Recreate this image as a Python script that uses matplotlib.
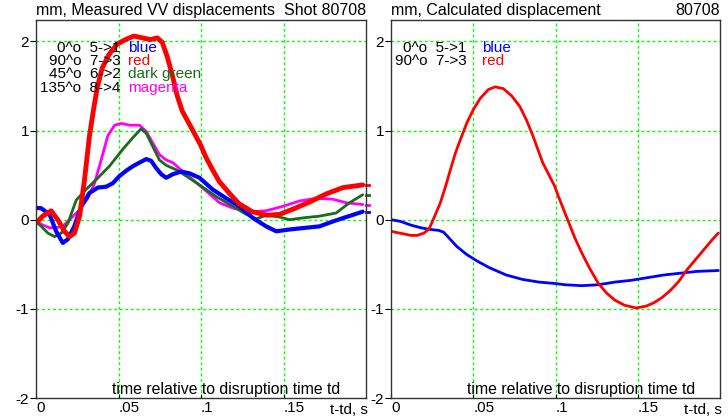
import numpy as np
import matplotlib
matplotlib.use('Agg')
import matplotlib.pyplot as plt

plt.rcParams['font.family'] = ['Liberation Sans', 'DejaVu Sans']

# measured VV displacements (mm) vs t-td (s)
red_t = [0.0, 0.0041, 0.0092, 0.0132, 0.0173, 0.0203, 0.0233, 0.0264, 0.0294, 0.0324, 0.035,
         0.0371, 0.0401, 0.0441, 0.0492, 0.0542, 0.0593, 0.0644, 0.0694, 0.0735, 0.0765,
         0.0795, 0.0825, 0.0856, 0.0886, 0.0936, 0.0997, 0.103, 0.107, 0.111, 0.117, 0.123,
         0.131, 0.140, 0.1476, 0.156, 0.166, 0.176, 0.186, 0.198]
red_v = [-0.04, 0.04, 0.10, 0.0, -0.13, -0.19, -0.15, 0.04, 0.45, 0.94, 1.25,
         1.48, 1.70, 1.85, 1.97, 2.02, 2.06, 2.04, 2.02, 2.04, 1.99,
         1.83, 1.63, 1.39, 1.22, 1.05, 0.84, 0.70, 0.56, 0.43, 0.30, 0.18,
         0.09, 0.05, 0.06, 0.12, 0.20, 0.29, 0.36, 0.39]

blue_t = [0.0, 0.003, 0.0082, 0.0122, 0.0162, 0.0193, 0.0233, 0.0274, 0.0324, 0.0375, 0.0425,
          0.0466, 0.0506, 0.0547, 0.0587, 0.0627, 0.0668, 0.0698, 0.0728, 0.0759, 0.0789,
          0.0829, 0.088, 0.093, 0.0991, 0.107, 0.1153, 0.1233, 0.1314, 0.1395, 0.1456,
          0.1536, 0.1638, 0.1718, 0.1799, 0.188, 0.198]
blue_v = [0.13, 0.13, 0.06, -0.13, -0.26, -0.22, -0.07, 0.15, 0.30, 0.36, 0.37,
          0.41, 0.49, 0.55, 0.60, 0.64, 0.68, 0.66, 0.58, 0.51, 0.47,
          0.51, 0.54, 0.52, 0.47, 0.34, 0.24, 0.15, 0.02, -0.075, -0.13,
          -0.11, -0.09, -0.075, -0.02, 0.03, 0.09]

green_t = [0.0, 0.0032, 0.0072, 0.0112, 0.0153, 0.0193, 0.0244, 0.0304, 0.0365, 0.0445, 0.0526,
           0.0587, 0.0637, 0.0668, 0.0708, 0.0748, 0.0789, 0.085, 0.091, 0.0991, 0.1092,
           0.1193, 0.1274, 0.1335, 0.1395, 0.1476, 0.1536, 0.1617, 0.1718, 0.1819, 0.19, 0.198]
green_v = [-0.02, -0.075, -0.15, -0.19, -0.15, -0.04, 0.22, 0.34, 0.45, 0.60, 0.79,
           0.92, 1.02, 0.97, 0.82, 0.67, 0.61, 0.56, 0.49, 0.39, 0.26,
           0.15, 0.06, 0.01, 0.05, 0.03, 0.0, 0.02, 0.04, 0.075, 0.19, 0.28]

magenta_t = [0.0, 0.0041, 0.0082, 0.0122, 0.0162, 0.0203, 0.0264, 0.0314, 0.0355, 0.0395, 0.0435,
             0.0476, 0.0516, 0.0567, 0.0627, 0.0668, 0.0708, 0.0748, 0.0789, 0.0829, 0.089,
             0.095, 0.1032, 0.1112, 0.1193, 0.1294, 0.1395, 0.1496, 0.1597, 0.1698, 0.1799,
             0.188, 0.198]
magenta_v = [-0.02, -0.06, -0.09, -0.09, -0.075, 0.0, 0.11, 0.24, 0.41, 0.67, 0.94,
             1.06, 1.08, 1.06, 1.06, 0.99, 0.86, 0.73, 0.67, 0.64, 0.54,
             0.45, 0.32, 0.19, 0.13, 0.09, 0.10, 0.15, 0.21, 0.24, 0.23,
             0.19, 0.17]

# calculated displacement
calc_red_t = [0.0, 0.004, 0.008, 0.012, 0.016, 0.020, 0.0231, 0.0261, 0.030, 0.0331, 0.0361,
              0.0392, 0.0422, 0.0462, 0.0502, 0.0542, 0.0592, 0.0633, 0.0683, 0.0733, 0.0783,
              0.0823, 0.0863, 0.0922, 0.0994, 0.1018, 0.1048, 0.1078, 0.1119, 0.1159, 0.1209,
              0.1259, 0.1309, 0.1359, 0.142, 0.149, 0.155, 0.160, 0.165, 0.170, 0.175, 0.180,
              0.185, 0.190, 0.195, 0.199]
calc_red_v = [-0.13, -0.146, -0.16, -0.176, -0.176, -0.15, -0.105, 0.02, 0.19, 0.37, 0.56,
              0.75, 0.90, 1.09, 1.24, 1.36, 1.46, 1.49, 1.47, 1.39, 1.27,
              1.12, 0.94, 0.64, 0.38, 0.26, 0.12, -0.02, -0.21, -0.37, -0.55,
              -0.71, -0.82, -0.90, -0.96, -0.99, -0.97, -0.93, -0.87, -0.79, -0.69, -0.56,
              -0.45, -0.34, -0.23, -0.15]

calc_blue_t = [0.0, 0.006, 0.012, 0.018, 0.024, 0.029, 0.032, 0.036, 0.040, 0.046, 0.052,
               0.060, 0.070, 0.080, 0.090, 0.0994, 0.106, 0.116, 0.126, 0.136, 0.146,
               0.156, 0.166, 0.176, 0.186, 0.199]
calc_blue_v = [0.0, -0.02, -0.06, -0.09, -0.11, -0.12, -0.14, -0.22, -0.30, -0.39, -0.46,
               -0.54, -0.62, -0.67, -0.70, -0.715, -0.73, -0.74, -0.73, -0.70, -0.68,
               -0.65, -0.62, -0.60, -0.58, -0.57]

legend_left = ['0^o  5->1', '90^o  7->3', '45^o  6->2', '135^o  8->4']
legend_right = ['0^o  5->1', '90^o  7->3']
color_names = ['blue', 'red', 'dark green', 'magenta']
colors = ['#0000ff', '#ff0000', '#1a6b1a', '#ff00ff']

xticks = [0, 0.05, 0.1, 0.15]
xticklabels = ['0', '.05', '.1', '.15']
yticks = [-2, -1, 0, 1, 2]


def setup_axes(ax, title, shot):
    ax.set_xlim(0, 0.2)
    ax.set_ylim(-2, 2.24)
    for v in [0.05, 0.1, 0.15]:
        ax.axvline(v, color='#00ff00', lw=1, ls=(0, (2, 2)), zorder=0)
    for v in [-1, 0, 1, 2]:
        ax.axhline(v, color='#00ff00', lw=1, ls=(0, (2, 2)), zorder=0)
    ax.set_xticks(xticks)
    ax.set_xticklabels(xticklabels, fontsize=11, ha='left')
    ax.set_yticks(yticks)
    ax.set_yticklabels([str(v) for v in yticks], fontsize=11)
    ax.tick_params(axis='y', direction='out', length=4, pad=1)
    ax.tick_params(axis='x', direction='in', length=3, pad=2)
    for s in ax.spines.values():
        s.set_color('#333333')
        s.set_linewidth(1)
    ax.text(0, 1.005, title, transform=ax.transAxes, fontsize=11.5, ha='left', va='bottom')
    ax.text(1.0, 1.005, shot, transform=ax.transAxes, fontsize=11.5, ha='right', va='bottom')
    ax.text(0.1155, -1.985, 'time relative to disruption time td', fontsize=11.4,
            ha='center', va='bottom')
    ax.text(1.005, -0.012, 't-td, s', transform=ax.transAxes, fontsize=11,
            ha='right', va='top')


def curve(ax, t, v, c, lw):
    ax.plot(t, v, color=c, lw=lw, solid_joinstyle='round', solid_capstyle='round')


fig = plt.figure(figsize=(7.28, 4.17), dpi=100)
ax1 = fig.add_axes([36 / 728, 19 / 417, 330 / 728, 378 / 417])
ax2 = fig.add_axes([391 / 728, 19 / 417, 329 / 728, 378 / 417])

setup_axes(ax1, 'mm, Measured VV displacements', 'Shot 80708')
curve(ax1, magenta_t, magenta_v, colors[3], 2)
curve(ax1, green_t, green_v, colors[2], 2)
curve(ax1, blue_t, blue_v, colors[0], 3)
curve(ax1, red_t, red_v, colors[1], 3.5)
# end values marked just outside the right spine
for ends, c in [(red_v, colors[1]), (green_v, colors[2]), (magenta_v, colors[3]), (blue_v, colors[0])]:
    ax1.plot([0.2, 0.202], [ends[-1], ends[-1]], color=c, lw=2, clip_on=False)

for i, lab in enumerate(legend_left):
    y = 1.93 - i * 0.15
    ax1.text(0.0512, y, lab, fontsize=11, ha='right', va='center')
    ax1.text(0.0555, y, color_names[i], fontsize=11, ha='left', va='center', color=colors[i])

setup_axes(ax2, 'mm, Calculated displacement', '80708')
curve(ax2, calc_blue_t, calc_blue_v, colors[0], 2)
curve(ax2, calc_red_t, calc_red_v, colors[1], 2)
for i, lab in enumerate(legend_right):
    y = 1.93 - i * 0.15
    ax2.text(0.0458, y, lab, fontsize=11, ha='right', va='center')
    ax2.text(0.0554, y, color_names[i], fontsize=11, ha='left', va='center', color=colors[i])

fig.savefig('out.png', dpi=100)
